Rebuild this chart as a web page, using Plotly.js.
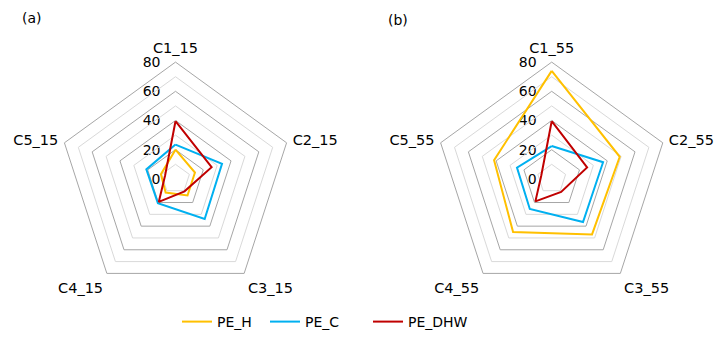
<!DOCTYPE html>
<html>
<head>
<meta charset="utf-8">
<script src="https://cdn.plot.ly/plotly-3.0.1.min.js"></script>
<style>html,body{margin:0;padding:0;background:#fff;}#chart{width:719px;height:338px;}</style>
</head>
<body>
<div id="chart"></div>
<script>
const categoriesA = ['C1_15', 'C2_15', 'C3_15', 'C4_15', 'C5_15'];
const categoriesB = ['C1_55', 'C2_55', 'C3_55', 'C4_55', 'C5_55'];
const seriesNames = ['PE_H', 'PE_C', 'PE_DHW'];
const peH_A = [20, 14, 14, 11.5, 10.5];
const peC_A = [23.5, 33.5, 34, 20.5, 21];
const peDHW_A = [39.5, 26, 10.5, 19.5, 7.5];
const peH_B = [74, 49, 47, 45, 41.5];
const peC_B = [22.5, 37, 36.5, 25.5, 25];
const peDHW_B = [39.5, 25.5, 11, 19, 7.5];
const majorTicks = [0, 20, 40, 60, 80];
const minorTicks = [10, 30, 50, 70];
const panelLabels = ['(a)', '(b)'];

const colors = ['#FFC000', '#00B0F0', '#C00000'];
const FONT = 'DejaVu Sans, sans-serif';
const close = a => a.concat([a[0]]);
const legendIds = ['legend', 'legend2', 'legend3'];
const RMAX = 80;

function hidden(cats, sub) {
  return {type: 'scatterpolar', r: close([1,1,1,1,1]), theta: close(cats), subplot: sub,
    mode: 'lines', line: {color: 'rgba(0,0,0,0)', width: 0}, hoverinfo: 'skip', showlegend: false};
}
function series(vals, cats, sub, i, show) {
  return {type: 'scatterpolar', r: close(vals), theta: close(cats), subplot: sub,
    mode: 'lines', name: seriesNames[i], line: {color: colors[i], width: 2},
    showlegend: show, legend: legendIds[i]};
}
// empty carrier traces for the radial scale label axes
function scaleCarrier(xa, ya) {
  return {type: 'scatter', x: [], y: [], xaxis: xa, yaxis: ya, mode: 'lines',
    hoverinfo: 'skip', showlegend: false};
}

const traces = [
  hidden(categoriesA, 'polar'),
  hidden(categoriesB, 'polar3'),
  scaleCarrier('x', 'y'),
  scaleCarrier('x2', 'y2'),
  series(peH_A, categoriesA, 'polar2', 0, true),
  series(peC_A, categoriesA, 'polar2', 1, true),
  series(peDHW_A, categoriesA, 'polar2', 2, true),
  series(peH_B, categoriesB, 'polar4', 0, false),
  series(peC_B, categoriesB, 'polar4', 1, false),
  series(peDHW_B, categoriesB, 'polar4', 2, false)
];

const CY = 183.8, R = 120, CXA = 175.5, CXB = 551.7;
const domA = {x: [(CXA - R)/719, (CXA + R)/719], y: [1 - (CY + R)/338, 1 - (CY - R)/338]};
const domB = {x: [(CXB - R)/719, (CXB + R)/719], y: [1 - (CY + R)/338, 1 - (CY - R)/338]};

function basePolar(dom) {
  return {
    domain: dom, gridshape: 'linear', bgcolor: 'rgba(0,0,0,0)',
    radialaxis: {range: [0, RMAX], tickvals: minorTicks, showticklabels: false, ticks: '',
      showline: false, gridcolor: '#D9D9D9', gridwidth: 1, angle: 90},
    angularaxis: {direction: 'clockwise', rotation: 90, showgrid: false, showline: false,
      showticklabels: false, ticks: ''}
  };
}
function topPolar(dom) {
  return {
    domain: dom, gridshape: 'linear', bgcolor: 'rgba(0,0,0,0)',
    radialaxis: {range: [0, RMAX], tickvals: majorTicks, showticklabels: false, ticks: '',
      showline: false, gridcolor: '#A6A6A6', gridwidth: 1, angle: 90},
    angularaxis: {direction: 'clockwise', rotation: 90, showgrid: false, showline: true,
      linecolor: '#A6A6A6', linewidth: 1, ticks: 'outside', ticklen: 3, tickcolor: 'rgba(0,0,0,0)',
      tickfont: {family: FONT, size: 14.5, color: '#000'}}
  };
}
function scaleAxis(cx) {
  return {domain: [1 - CY/338, 1 - (CY - R)/338], range: [0, RMAX], tickvals: majorTicks,
    anchor: 'free', position: cx/719, side: 'left', showgrid: false, zeroline: false,
    showline: false, ticks: '', ticklabelstandoff: 15, fixedrange: true,
    tickfont: {family: FONT, size: 14, color: '#000'}};
}
function hiddenX(cx) {
  return {domain: [(cx - 1)/719, (cx + 1)/719], visible: false, fixedrange: true, range: [0, 1]};
}

function legendAt(xText) {
  return {orientation: 'h', x: (xText - 40)/719, xanchor: 'left', y: 1 - 331/338, yanchor: 'middle',
    font: {family: FONT, size: 14, color: '#000'}, bgcolor: 'rgba(0,0,0,0)'};
}

const layout = {
  width: 719, height: 338,
  margin: {l: 0, r: 0, t: 0, b: 0},
  paper_bgcolor: '#fff',
  plot_bgcolor: 'rgba(0,0,0,0)',
  font: {family: FONT, size: 14, color: '#000'},
  polar: basePolar(domA),
  polar2: topPolar(domA),
  polar3: basePolar(domB),
  polar4: topPolar(domB),
  xaxis: hiddenX(CXA),
  yaxis: scaleAxis(CXA),
  xaxis2: hiddenX(CXB),
  yaxis2: scaleAxis(CXB),
  showlegend: true,
  legend: legendAt(217),
  legend2: legendAt(305),
  legend3: legendAt(408),
  annotations: [
    {text: panelLabels[0], xref: 'paper', yref: 'paper', x: 20/719, y: 1 - 18/338, xanchor: 'left', yanchor: 'middle', showarrow: false, font: {family: FONT, size: 14, color: '#000'}},
    {text: panelLabels[1], xref: 'paper', yref: 'paper', x: 386/719, y: 1 - 21/338, xanchor: 'left', yanchor: 'middle', showarrow: false, font: {family: FONT, size: 14, color: '#000'}}
  ]
};

Plotly.newPlot('chart', traces, layout, {staticPlot: true, displayModeBar: false});
</script>
</body>
</html>
